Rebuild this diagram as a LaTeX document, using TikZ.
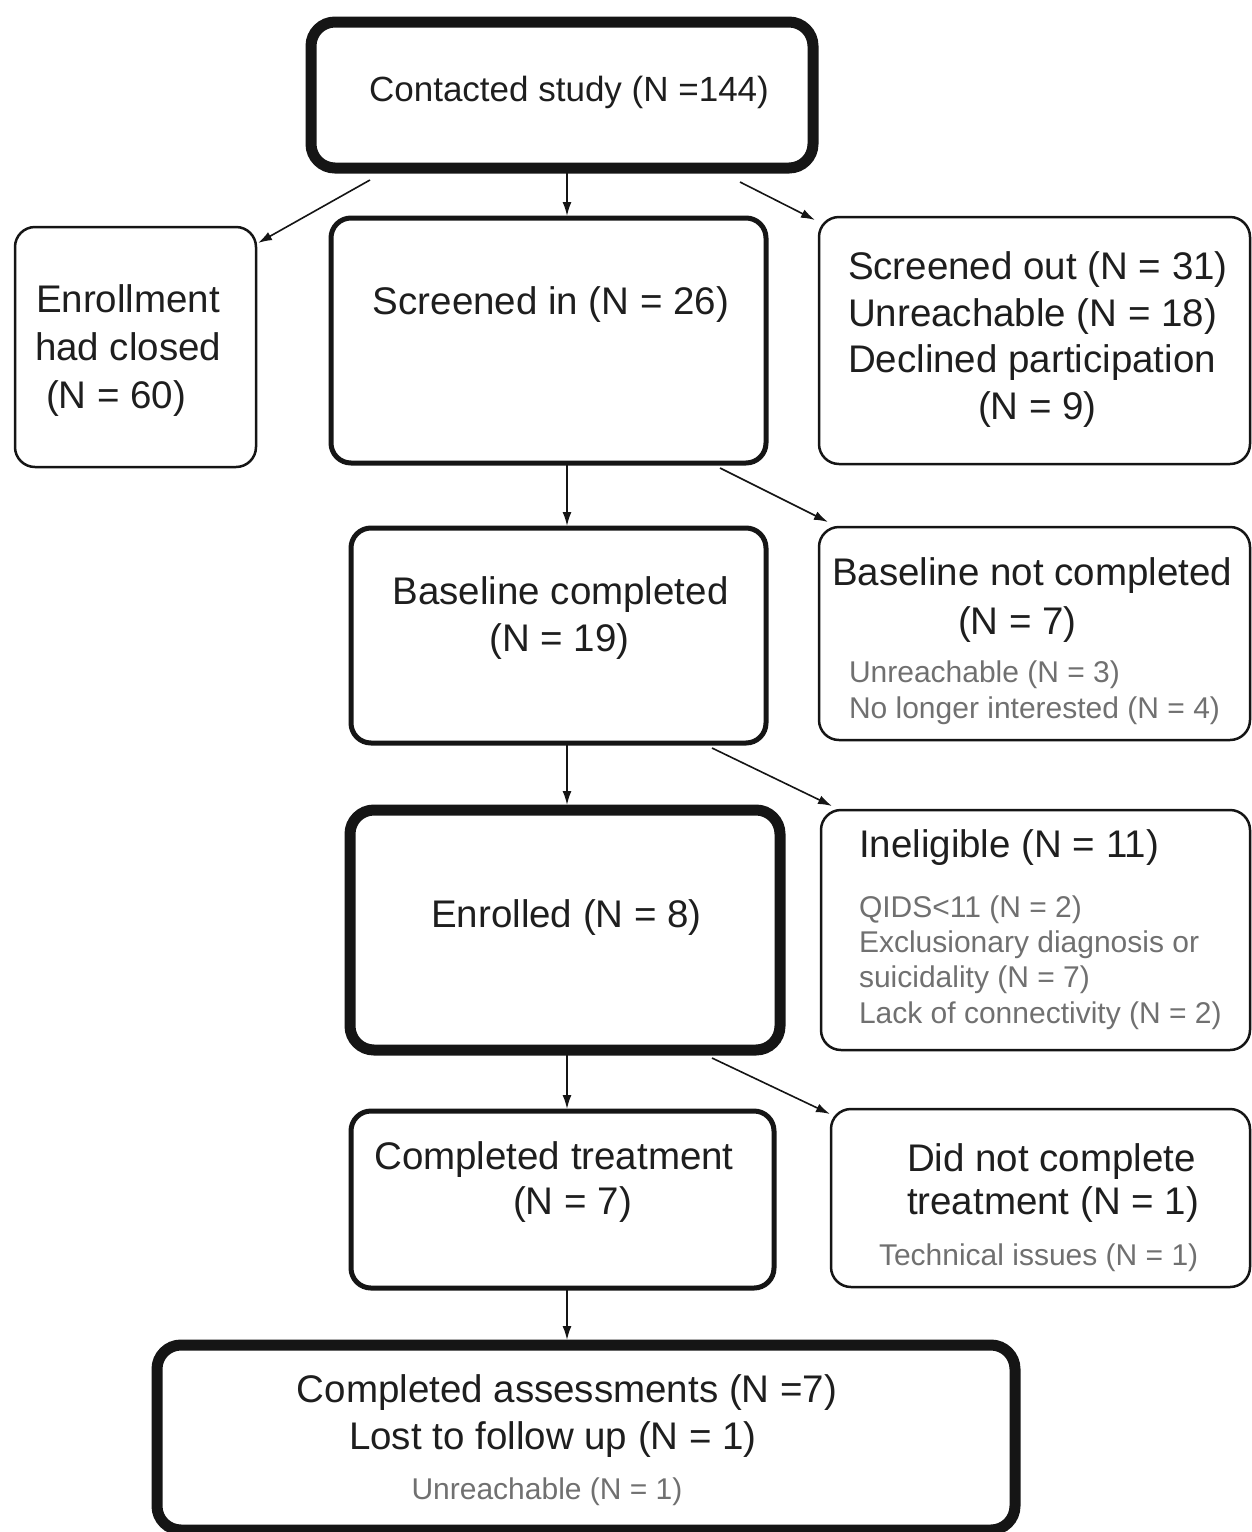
\documentclass[tikz,border=0pt]{standalone}
\usepackage{fontspec}
\setmainfont{Liberation Sans}
\usetikzlibrary{arrows.meta,calc}
\definecolor{ink}{HTML}{151515}
\definecolor{txt}{HTML}{1E1E1E}
\definecolor{gtxt}{HTML}{707070}
\begin{document}
\begin{tikzpicture}[x=1pt,y=-1pt,
  box/.style={draw=ink, rounded corners=20pt, inner sep=0pt, outer sep=0pt, line width=2.5pt},
  medbox/.style={box, line width=5pt},
  heavybox/.style={box, line width=11pt, rounded corners=24pt},
  big/.style={font=\fontsize{38.5}{47}\selectfont, text=txt, inner sep=0pt, outer sep=0pt},
  sml/.style={font=\fontsize{30}{36}\selectfont, text=gtxt, inner sep=0pt, outer sep=0pt},
  arr/.style={draw=ink, line width=1.6pt, -{Latex[length=14pt,width=9pt]}}
]
\useasboundingbox (0,0) rectangle (1252,1532);
\coordinate (col) at (567,0);

% boxes
\node[heavybox, minimum width=502pt, minimum height=146pt] (contacted) at (562,95) {};
\node[box, minimum width=241pt, minimum height=240pt] (enroll) at (135.5,347) {};
\node[medbox, minimum width=435pt, minimum height=245pt] (screenin) at (548.5,340.5) {};
\node[box, minimum width=431pt, minimum height=247pt] (screenout) at (1034.5,340.5) {};
\node[medbox, minimum width=415pt, minimum height=215pt] (baseline) at (558.5,635.5) {};
\node[box, minimum width=431pt, minimum height=213pt] (basenot) at (1034.5,633.5) {};
\node[heavybox, minimum width=430pt, minimum height=240pt] (enrolled) at (565,930) {};
\node[box, minimum width=429pt, minimum height=240pt] (inelig) at (1035.5,930) {};
\node[medbox, minimum width=423pt, minimum height=177pt] (comptreat) at (562.5,1199.5) {};
\node[box, minimum width=419pt, minimum height=178pt] (didnot) at (1040.5,1198) {};
\node[heavybox, minimum width=858pt, minimum height=185pt] (assess) at (586,1437.5) {};

% texts
\node[big, font=\fontsize{35}{42}\selectfont, anchor=base] (tcontacted) at (569,101) {Contacted study (N =144)};

\node[big, anchor=base west] (te1) at (36,312) {Enrollment};
\node[big, anchor=base west] (te2) at (35,360) {had closed};
\node[big, anchor=base west] (te3) at (46,408) {(N = 60)};

\node[big, anchor=base] (tsi) at (551,314) {Screened in (N = 26)};

\node[big, anchor=base west] (tso1) at (848,279) {Screened out (N = 31)};
\node[big, anchor=base west] (tso2) at (848,326) {Unreachable (N = 18)};
\node[big, anchor=base west] (tso3) at (848,372) {Declined participation};
\node[big, anchor=base west] (tso4) at (978,419) {(N = 9)};

\node[big, anchor=base] (tb1) at (560.5,604) {Baseline completed};
\node[big, anchor=base] (tb2) at (559.5,651) {(N = 19)};

\node[big, anchor=base west] (tbn1) at (832,585) {Baseline not completed};
\node[big, anchor=base west] (tbn2) at (958,634) {(N = 7)};
\node[sml, anchor=base west] (tbn3) at (849,682) {Unreachable (N = 3)};
\node[sml, anchor=base west] (tbn4) at (849,718) {No longer interested (N = 4)};

\node[big, anchor=base] (ten) at (566.5,927) {Enrolled (N = 8)};

\node[big, anchor=base west] (ti1) at (859,857) {Ineligible (N = 11)};
\node[sml, anchor=base west] (ti2) at (859,917) {QIDS<11 (N = 2)};
\node[sml, anchor=base west] (ti3) at (859,952) {Exclusionary diagnosis or};
\node[sml, anchor=base west] (ti4) at (859,987) {suicidality (N = 7)};
\node[sml, anchor=base west] (ti5) at (859,1023) {Lack of connectivity (N = 2)};

\node[big, anchor=base] (tct1) at (554,1169) {Completed treatment};
\node[big, anchor=base] (tct2) at (572.5,1214) {(N = 7)};

\node[big, anchor=base west] (td1) at (907,1171) {Did not complete};
\node[big, anchor=base west] (td2) at (907,1214) {treatment (N = 1)};
\node[sml, anchor=base west] (td3) at (879,1265) {Technical issues (N = 1)};

\node[big, anchor=base] (ta1) at (567,1402) {Completed assessments (N =7)};
\node[big, anchor=base] (ta2) at (553,1449) {Lost to follow up (N = 1)};
\node[sml, anchor=base] (ta3) at (547,1499) {Unreachable (N = 1)};

% connectors
\draw[arr] ([shift={(59,12)}]contacted.south west) -- ([shift={(2,16)}]enroll.north east);
\draw[arr, shorten >=2pt] (contacted.south -| col) -- (screenin.north -| col);
\draw[arr] ([shift={(-73,14)}]contacted.south east) -- ([shift={(-4,3)}]screenout.north west);
\draw[arr, shorten >=2pt] (screenin.south -| col) -- (baseline.north -| col);
\draw[arr] ([shift={(-46,5)}]screenin.south east) -- ([shift={(9,-5)}]basenot.north west);
\draw[arr, shorten >=5pt] (baseline.south -| col) -- (enrolled.north -| col);
\draw[arr] ([shift={(-54,5)}]baseline.south east) -- ([shift={(11,-4)}]inelig.north west);
\draw[arr, shorten >=2pt] (enrolled.south -| col) -- (comptreat.north -| col);
\draw[arr] ([shift={(-68,8)}]enrolled.south east) -- ([shift={(-1,5)}]didnot.north west);
\draw[arr, shorten >=5pt] (comptreat.south -| col) -- (assess.north -| col);
\end{tikzpicture}
\end{document}
